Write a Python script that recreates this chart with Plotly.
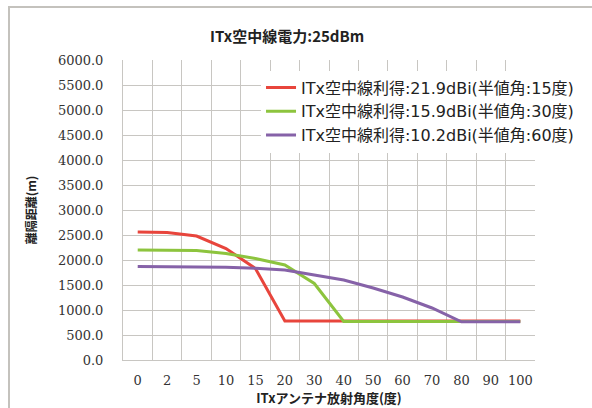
import plotly.graph_objects as go

categories = ["0", "2", "5", "10", "15", "20", "30", "40", "50", "60", "70", "80", "90", "100"]
gain_21_9 = [2560, 2550, 2480, 2230, 1830, 780, 780, 780, 780, 780, 780, 780, 780, 780]
gain_15_9 = [2200, 2200, 2190, 2130, 2030, 1900, 1530, 770, 770, 770, 770, 770, 770, 770]
gain_10_2 = [1870, 1870, 1870, 1855, 1835, 1800, 1700, 1600, 1440, 1260, 1040, 765, 765, 765]
series_names = [
    "ITx空中線利得:21.9dBi(半値角:15度)",
    "ITx空中線利得:15.9dBi(半値角:30度)",
    "ITx空中線利得:10.2dBi(半値角:60度)",
]
colors = ["#e8453c", "#8dc43e", "#8662a8"]

cjk = "Noto Sans CJK JP"
legfont = "DejaVu Sans, Noto Sans CJK JP"
serif = "DejaVu Serif"

fig = go.Figure()
for name, vals, c in zip(series_names, [gain_21_9, gain_15_9, gain_10_2], colors):
    fig.add_trace(go.Scatter(x=categories, y=vals, mode="lines", name=name,
                             line=dict(color=c, width=3)))

fig.update_layout(
    width=592, height=408,
    margin=dict(l=123, r=57, t=60, b=48, autoexpand=False),
    paper_bgcolor="white", plot_bgcolor="white",
    title=dict(text="<b>ITx空中線電力:25dBm</b>", x=0.485, xanchor="center",
               y=0.91, yanchor="middle", font=dict(family=cjk, size=15, color="#222")),
    showlegend=True,
    legend=dict(x=0.335, y=0.965, xanchor="left", yanchor="top", bgcolor="white",
                font=dict(family=legfont, size=16, color="#222"), tracegroupgap=0,
                itemwidth=30),
    xaxis=dict(type="category", range=[-0.5, 13.5], tickson="boundaries",
               showgrid=True, gridcolor="#c8c6c2", gridwidth=1,
               showline=True, linecolor="#c8c6c2", ticks="", tickangle=0,
               automargin=False,
               tickfont=dict(family=serif, size=13, color="#333"),
               ticklabelstandoff=8,
               title=dict(text="<b>ITxアンテナ放射角度(度)</b>",
                          font=dict(family=cjk, size=13, color="#222"), standoff=6)),
    yaxis=dict(range=[0, 6000], dtick=500, tickformat=".1f",
               showgrid=True, gridcolor="#c8c6c2", gridwidth=1,
               showline=True, linecolor="#c8c6c2", zeroline=False, ticks="",
               automargin=False,
               tickfont=dict(family=serif, size=13, color="#333"),
               ticklabelstandoff=16,
               title=dict(text="<b>離隔距離(m)</b>",
                          font=dict(family=cjk, size=12, color="#222"), standoff=18)),
)

# outer chart border (top and left edges visible)
bx = (9 - 123) / 412
by = 1 + (60 - 7) / 300
fig.add_shape(type="path", xref="paper", yref="paper",
              path=f"M {bx} -0.5 L {bx} {by} L 1.15 {by}",
              line=dict(color="#c4c2bd", width=2))

fig.write_html("out.html", config={"displayModeBar": False},
               post_script="document.body.style.margin='0px';")
